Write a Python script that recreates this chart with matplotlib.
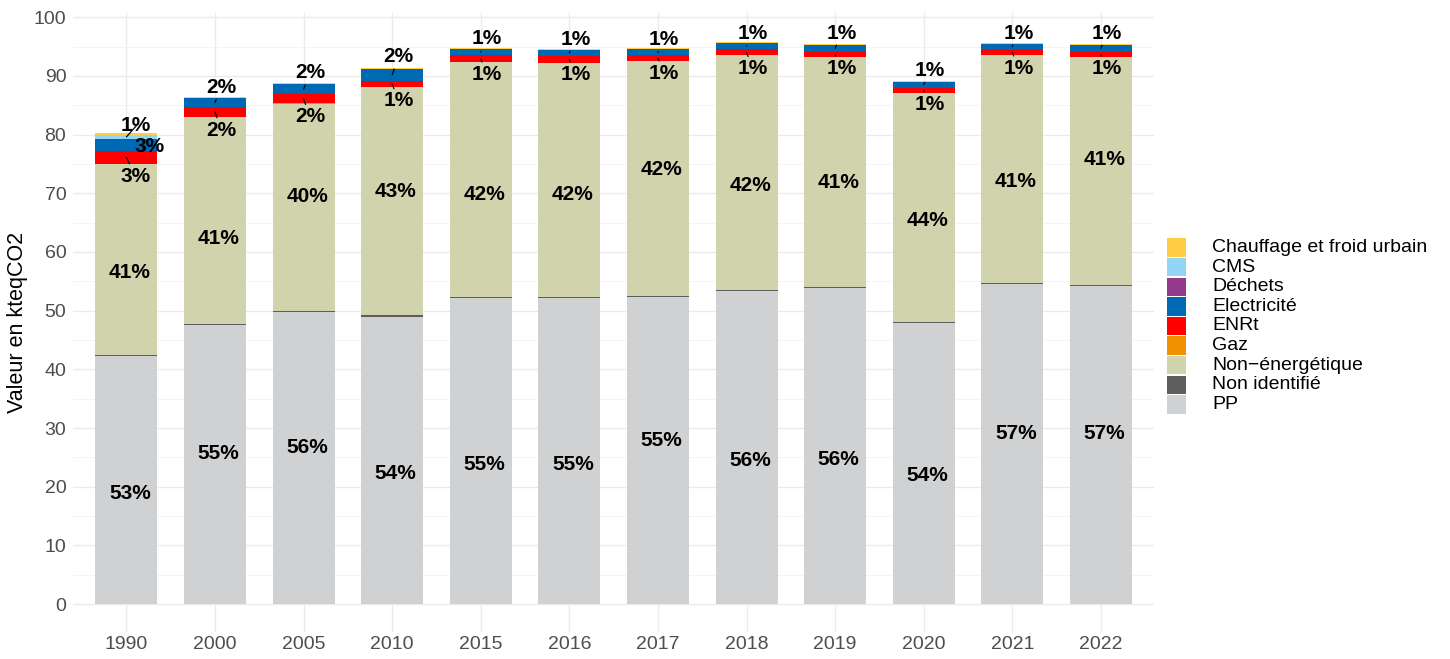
import matplotlib
matplotlib.use("Agg")
import matplotlib.pyplot as plt
from matplotlib.patches import Rectangle
import numpy as np

plt.rcParams['font.family'] = ['Liberation Sans', 'DejaVu Sans']

# ---------------- data (kteqCO2) ----------------
years = ["1990", "2000", "2005", "2010", "2015", "2016", "2017", "2018", "2019", "2020", "2021", "2022"]
pp          = [42.3, 47.6, 49.7, 49.0, 52.1, 52.1, 52.3, 53.4, 53.9, 47.85, 54.5, 54.2]
non_ident   = [0.2, 0.2, 0.2, 0.2, 0.2, 0.2, 0.2, 0.2, 0.2, 0.2, 0.2, 0.2]
non_energ   = [32.55, 35.2, 35.4, 38.9, 40.0, 39.9, 40.0, 39.9, 39.1, 39.05, 38.9, 38.8]
gaz         = [0.0, 0.0, 0.05, 0.05, 0.0, 0.0, 0.0, 0.0, 0.0, 0.0, 0.0, 0.0]
enrt        = [2.15, 1.7, 1.5, 1.0, 1.2, 1.25, 1.05, 1.05, 0.9, 0.9, 0.9, 0.9]
electricite = [2.05, 1.6, 1.8, 2.1, 1.15, 1.0, 1.0, 1.1, 1.2, 1.0, 1.0, 1.2]
dechets     = [0.0] * 12
cms         = [0.75, 0.0, 0.0, 0.0, 0.0, 0.0, 0.0, 0.0, 0.0, 0.0, 0.0, 0.0]
chauffage   = [0.2, 0.2, 0.15, 0.15, 0.15, 0.15, 0.15, 0.2, 0.15, 0.1, 0.15, 0.15]

# stacking order: bottom -> top
series = [
    ("PP", pp, "#D0D1D3"),
    ("Non identifié", non_ident, "#5E5E5E"),
    ("Non\u2212énergétique", non_energ, "#D1D3AD"),
    ("Gaz", gaz, "#F39200"),
    ("ENRt", enrt, "#FF0000"),
    ("Electricité", electricite, "#0069B4"),
    ("Déchets", dechets, "#933A8C"),
    ("CMS", cms, "#93D5F2"),
    ("Chauffage et froid urbain", chauffage, "#FFCE45"),
]

# label placement tweaks (repel-like offsets: dx in category units, dy in value units)
label_dy = {
    "PP":   [-2.23, 1.94, 1.91, -2.17, -2.19, -2.19, 1.80, -2.16, -2.24, -2.10, 1.90, 2.05],
    "Non\u2212énergétique": [-2.33, -3.02, 1.86, 1.74, -2.42, -2.37, 1.64, -2.18, -1.89, -2.29, -2.22, 1.88],
    "ENRt": [-3.18, -3.06, -3.05, -2.90, -2.61, -2.54, -2.57, -2.80, -2.33, -2.36, -2.73, -2.33],
    "Electricité": [-0.33, 2.62, 2.80, 3.08, 2.23, 2.35, 2.25, 2.12, 2.62, 2.49, 2.32, 2.62],
    "CMS":  [1.86] + [2.0] * 11,
}
label_dx = {
    "PP": [0.04] * 12,
    "Non\u2212énergétique": [0.04] * 12,
    "ENRt": [0.10] + [0.07] * 11,
    "Electricité": [0.26] + [0.07] * 11,
    "CMS": [0.11] + [0.07] * 11,
}

W, H = 1450, 659
fig = plt.figure(figsize=(W / 100, H / 100), dpi=100)
ax = fig.add_axes([73.3 / W, (H - 632.2) / H, (1154 - 73.3) / W, (632.2 - 12.9) / H])

x = np.arange(len(years))
bottom = np.zeros(len(years))
totals = np.sum([np.array(v) for _, v, _ in series], axis=0)
seg_info = {}
for name, vals, col in series:
    v = np.array(vals, dtype=float)
    ax.bar(x, v, bottom=bottom, width=0.7, color=col, edgecolor='none', zorder=2)
    seg_info[name] = (bottom.copy(), v.copy())
    bottom = bottom + v

# percentage labels
for name, (b, v) in seg_info.items():
    for i in range(len(years)):
        pct = 100 * v[i] / totals[i]
        r = int(round(pct))
        if r < 1:
            continue
        cy = b[i] + v[i] / 2
        dx = label_dx.get(name, [0.05] * 12)[i]
        dy = label_dy.get(name, [0.0] * 12)[i]
        ly = cy + dy
        outside = abs(dy) > v[i] / 2
        if outside:
            ax.annotate(f"{r}%", xy=(x[i], cy), xytext=(x[i] + dx, ly),
                        ha='center', va='center', fontsize=15, fontweight='bold',
                        color='black', zorder=5,
                        arrowprops=dict(arrowstyle='-', color='black', lw=0.9,
                                        shrinkA=0, shrinkB=0))
        else:
            ax.text(x[i] + dx, ly, f"{r}%", ha='center', va='center', fontsize=15,
                    fontweight='bold', color='black', zorder=5)

# axes styling (minimal theme)
ax.set_xlim(-0.6, len(years) - 0.4)
ax.set_ylim(-4.8, 100.75)
ax.set_yticks(np.arange(0, 101, 10))
ax.set_yticks(np.arange(5, 100, 10), minor=True)
ax.set_xticks(x)
ax.set_xticklabels(years)
ax.grid(axis='y', which='major', color='#EBEBEB', lw=1.0, zorder=0)
ax.grid(axis='y', which='minor', color='#F3F3F3', lw=0.6, zorder=0)
ax.grid(axis='x', which='major', color='#EBEBEB', lw=1.0, zorder=0)
for s in ax.spines.values():
    s.set_visible(False)
ax.tick_params(axis='both', which='both', length=0, labelsize=14, colors='#4D4D4D')
ax.tick_params(axis='y', pad=5)
ax.tick_params(axis='x', pad=3)
ax.set_ylabel("Valeur en kteqCO2", fontsize=15.5, color='black', labelpad=4)
ax.set_axisbelow(True)

# legend (top -> bottom: reverse of stacking)
legend_items = list(reversed(series))
row_h = 19.6
y_top = 238.3
for k, (name, _, col) in enumerate(legend_items):
    yt = y_top + k * row_h
    fig.add_artist(Rectangle((1167.3 / W, 1 - (yt + 18.4) / H), 18.7 / W, 18.4 / H,
                             transform=fig.transFigure, facecolor=col, edgecolor='none'))
    fig.text(1212.3 / W, 1 - (yt + 9.2) / H, name, fontsize=14, va='center', ha='left',
             color='black')

fig.savefig("out.png", dpi=100)
